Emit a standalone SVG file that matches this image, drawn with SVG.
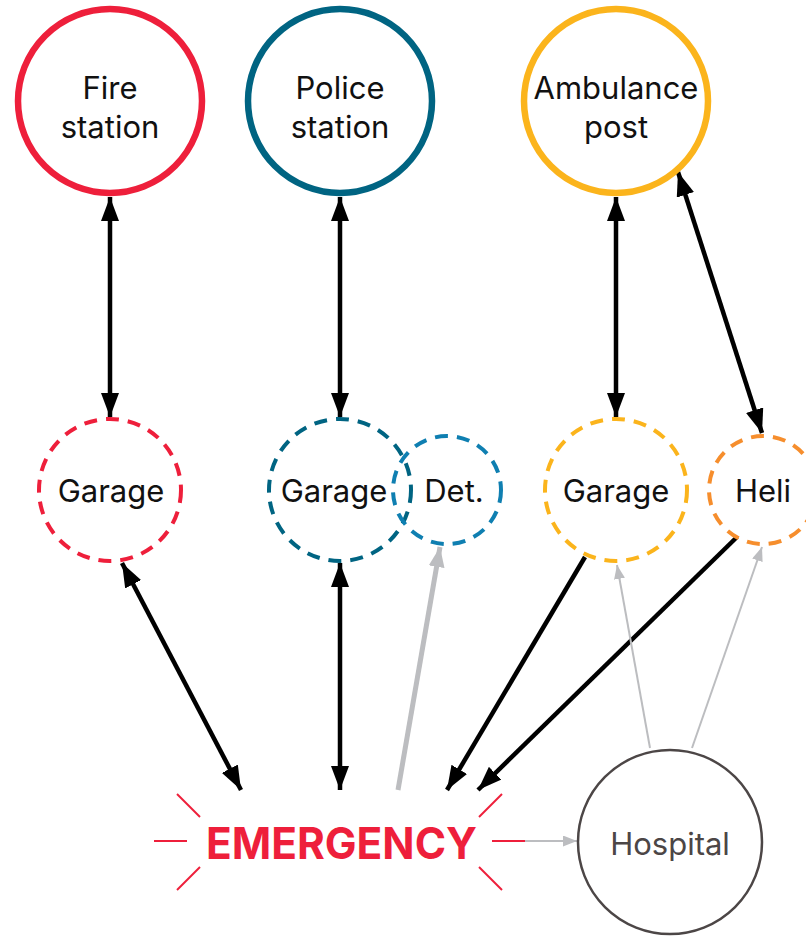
<svg xmlns="http://www.w3.org/2000/svg" width="806" height="937" viewBox="0 0 806 937">
<defs>
<style>
.lbl{font-family:Inter,"Noto Sans","Liberation Sans",sans-serif;font-size:31px;fill:#111;text-anchor:middle}
.station{fill:#fff;stroke-width:6.5}
.sub{fill:none;stroke-width:4;stroke-dasharray:13 9}
.blk{stroke:#000;stroke-width:4.5;fill:none}
.gry{stroke:#bcbdc0;fill:none}
.burst{stroke:#ee1f3b;stroke-width:2}
</style>
<marker id="ab" markerUnits="userSpaceOnUse" markerWidth="24" markerHeight="18" refX="24" refY="9" orient="auto-start-reverse" viewBox="0 0 24 18"><path d="M0,0L24,9L0,18z" fill="#000"/></marker>
<marker id="ag" markerUnits="userSpaceOnUse" markerWidth="20" markerHeight="16" refX="20" refY="8" orient="auto" viewBox="0 0 20 16"><path d="M0,0L20,8L0,16z" fill="#bcbdc0"/></marker>
<marker id="ags" markerUnits="userSpaceOnUse" markerWidth="14" markerHeight="11" refX="14" refY="5.5" orient="auto" viewBox="0 0 14 11"><path d="M0,0L14,5.5L0,11z" fill="#bcbdc0"/></marker>
</defs>
<g id="connectors">
<line class="blk" x1="110" y1="197" x2="110" y2="417" marker-start="url(#ab)" marker-end="url(#ab)"/>
<line class="blk" x1="340" y1="197" x2="340" y2="417" marker-start="url(#ab)" marker-end="url(#ab)"/>
<line class="blk" x1="616" y1="197" x2="616" y2="417" marker-start="url(#ab)" marker-end="url(#ab)"/>
<line class="blk" x1="678" y1="172" x2="762" y2="433" marker-start="url(#ab)" marker-end="url(#ab)"/>
<line class="blk" x1="122" y1="563" x2="241" y2="790" marker-start="url(#ab)" marker-end="url(#ab)"/>
<line class="blk" x1="340" y1="563" x2="340" y2="790" marker-start="url(#ab)" marker-end="url(#ab)"/>
<line class="gry" stroke-width="5" x1="398" y1="790" x2="440" y2="547" marker-end="url(#ag)"/>
<line class="blk" x1="585" y1="557" x2="447" y2="790" marker-end="url(#ab)"/>
<line class="blk" x1="737" y1="537" x2="478" y2="790" marker-end="url(#ab)"/>
<line class="gry" stroke-width="2" x1="650" y1="748" x2="617" y2="565" marker-end="url(#ags)"/>
<line class="gry" stroke-width="2" x1="692" y1="748" x2="762" y2="547" marker-end="url(#ags)"/>
<line class="gry" stroke-width="2" x1="525" y1="841" x2="577" y2="841" marker-end="url(#ags)"/>
</g>
<g id="fire-station"><circle class="station" cx="110" cy="101" r="92" stroke="#ee1f3b"/><text class="lbl" x="110" y="99">Fire</text><text class="lbl" x="110" y="138">station</text></g>
<g id="police-station"><circle class="station" cx="340" cy="101" r="92" stroke="#006482"/><text class="lbl" x="340" y="99">Police</text><text class="lbl" x="340" y="138">station</text></g>
<g id="ambulance-post"><circle class="station" cx="616" cy="101" r="92" stroke="#fbb41c"/><text class="lbl" x="616" y="99">Ambulance</text><text class="lbl" x="616" y="138">post</text></g>
<g id="fire-garage"><circle class="sub" cx="110" cy="490" r="71" stroke="#ee1f3b"/><text class="lbl" x="111" y="502">Garage</text></g>
<g id="police-garage"><circle class="sub" cx="340" cy="490" r="71" stroke="#006482"/><text class="lbl" x="334" y="502">Garage</text></g>
<g id="detective"><circle class="sub" cx="447" cy="490" r="54" stroke="#0f7fb1"/><text class="lbl" x="454" y="502">Det.</text></g>
<g id="ambulance-garage"><circle class="sub" cx="616" cy="490" r="71" stroke="#fbb41c"/><text class="lbl" x="616" y="502">Garage</text></g>
<g id="heli"><circle class="sub" cx="763" cy="490" r="54" stroke="#f68e2d"/><text class="lbl" x="763" y="502">Heli</text></g>
<g id="emergency">
<line class="burst" x1="154" y1="841" x2="187" y2="841"/>
<line class="burst" x1="492" y1="841" x2="525" y2="841"/>
<line class="burst" x1="177" y1="794" x2="200" y2="817"/>
<line class="burst" x1="200" y1="867" x2="177" y2="890"/>
<line class="burst" x1="502" y1="794" x2="479" y2="817"/>
<line class="burst" x1="479" y1="867" x2="502" y2="890"/>
<text x="341.5" y="859" text-anchor="middle" font-family="Inter,'Noto Sans','Liberation Sans',sans-serif" font-weight="bold" font-size="44" fill="#ee1f3b" textLength="271" lengthAdjust="spacingAndGlyphs">EMERGENCY</text>
</g>
<g id="hospital"><circle cx="670" cy="842" r="92" fill="#fff" stroke="#4c4646" stroke-width="2.5"/><text class="lbl" x="670" y="855" style="fill:#4c4646">Hospital</text></g>
</svg>
